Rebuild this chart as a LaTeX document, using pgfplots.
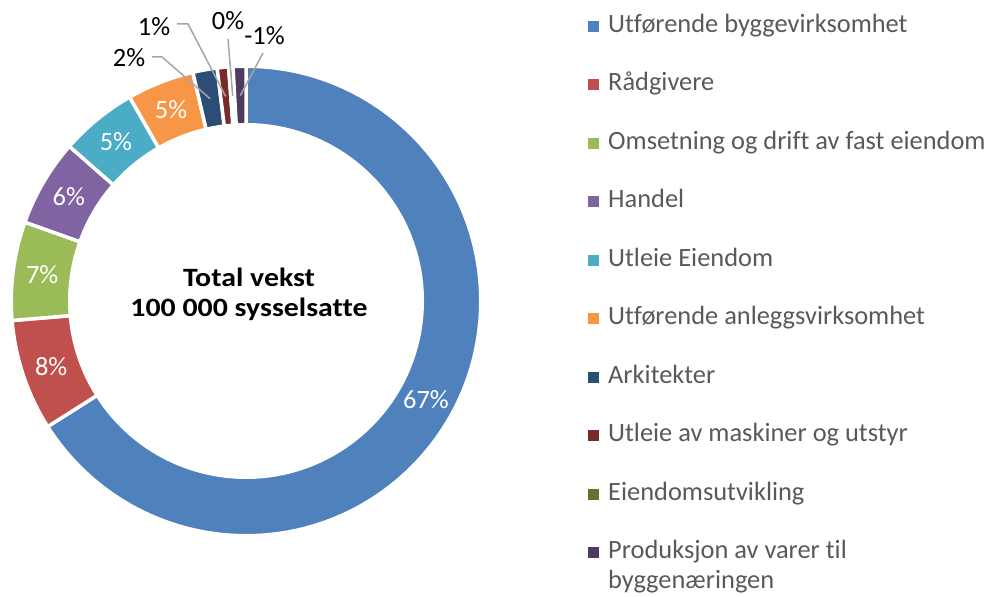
\documentclass[border=0pt]{standalone}
\usepackage{pgfplots}
\pgfplotsset{compat=1.18}
\usepackage{pgfplotstable}
\usepackage{fontspec}
\setmainfont{Carlito}[Ligatures=NoCommon]
\newfontfamily\titlefont{Carlito}[Ligatures=NoCommon, FakeStretch=1.13]
\definecolor{cUtf}{HTML}{4F81BD}
\definecolor{cRad}{HTML}{C0504D}
\definecolor{cOms}{HTML}{9BBB59}
\definecolor{cHan}{HTML}{8064A2}
\definecolor{cUtl}{HTML}{4BACC6}
\definecolor{cAnl}{HTML}{F79646}
\definecolor{cArk}{HTML}{2C4D75}
\definecolor{cMas}{HTML}{772C2A}
\definecolor{cEie}{HTML}{5F7530}
\definecolor{cPro}{HTML}{4D3B62}
\definecolor{cLeg}{HTML}{595959}
\definecolor{cLead}{HTML}{A6A6A6}

% share of total growth (%), drawn as |value|
\pgfplotstableread[col sep=comma]{
value,col
67.2,cUtf
7.8,cRad
6.9,cOms
6.1,cHan
5.4,cUtl
4.7,cAnl
1.7,cArk
0.8,cMas
0.3,cEie
-0.9,cPro
}\donut

\begin{document}
\fontsize{13.2}{15}\selectfont
\begin{tikzpicture}
\useasboundingbox (0,0) rectangle (496pt,298.5pt);
% angles, clockwise from 12 o'clock
\gdef\tot{0}
\foreach \i in {0,...,9}{%
  \pgfplotstablegetelem{\i}{value}\of\donut
  \pgfmathparse{\tot+abs(\pgfplotsretval)}\xdef\tot{\pgfmathresult}}
\gdef\cum{0}
\foreach \i in {0,...,9}{%
  \pgfplotstablegetelem{\i}{value}\of\donut \let\vv\pgfplotsretval
  \pgfmathsetmacro\aS{90-\cum/\tot*360}
  \pgfmathsetmacro\nc{\cum+abs(\vv)}
  \pgfmathsetmacro\aE{90-\nc/\tot*360}
  \pgfmathsetmacro\aM{(\aS+\aE)/2}
  \pgfmathtruncatemacro\lab{round(\vv)}
  \pgfplotstablegetelem{\i}{col}\of\donut
  \expandafter\xdef\csname col\i\endcsname{\pgfplotsretval}
  \expandafter\xdef\csname aS\i\endcsname{\aS}
  \expandafter\xdef\csname aE\i\endcsname{\aE}
  \expandafter\xdef\csname aM\i\endcsname{\aM}
  \expandafter\xdef\csname lab\i\endcsname{\lab}
  \xdef\cum{\nc}}
\begin{axis}[at={(0pt,0pt)}, anchor=south west, x=0.5pt, y=0.5pt,
  xmin=0, xmax=992, ymin=0, ymax=597, hide axis, clip=false,
  legend image code/.code={\fill[#1] (0pt,-2.5pt) rectangle (5pt,2.5pt);},
  legend style={at={(axis cs:588,583)}, anchor=north west, draw=none, fill=none,
    inner sep=0pt, row sep=17.25pt, column sep=4.5pt,
    nodes={inner sep=0pt, text height=9pt, text depth=3pt, text=cLeg}},
  legend cell align=left]
\addlegendimage{cUtf}\addlegendentry{Utførende byggevirksomhet}
\addlegendimage{cRad}\addlegendentry{Rådgivere}
\addlegendimage{cOms}\addlegendentry{Omsetning og drift av fast eiendom}
\addlegendimage{cHan}\addlegendentry{Handel}
\addlegendimage{cUtl}\addlegendentry{Utleie Eiendom}
\addlegendimage{cAnl}\addlegendentry{Utførende anleggsvirksomhet}
\addlegendimage{cArk}\addlegendentry{Arkitekter}
\addlegendimage{cMas}\addlegendentry{Utleie av maskiner og utstyr}
\addlegendimage{cEie}\addlegendentry{Eiendomsutvikling}
\addlegendimage{cPro}\addlegendentry{\begin{tabular}[t]{@{}l@{}}Produksjon av varer til\\byggenæringen\end{tabular}}

\pgfplotsforeachungrouped \i in {0,...,9}{%
  \edef\tmp{\noexpand\filldraw[fill=\csname col\i\endcsname, draw=white, line width=1.75pt, line join=round]
    ([shift={(\csname aS\i\endcsname:117.375pt)}]axis cs:246,296)
    arc[start angle=\csname aS\i\endcsname, end angle=\csname aE\i\endcsname, radius=117.375pt]
    -- ([shift={(\csname aE\i\endcsname:88.125pt)}]axis cs:246,296)
    arc[start angle=\csname aE\i\endcsname, end angle=\csname aS\i\endcsname, radius=88.125pt] -- cycle;}%
  \tmp}
\pgfplotsforeachungrouped \i in {0,...,5}{%
  \edef\tmp{\noexpand\node[text=white] at ([shift={(\csname aM\i\endcsname:102.75pt)}]axis cs:246,296)
    {\csname lab\i\endcsname\noexpand\%};}%
  \tmp}

\draw[cLead, line width=0.75pt] (axis cs:152,540) -- (axis cs:162,540) -- ([shift={(\csname aM6\endcsname:102.75pt)}]axis cs:246,296);
\draw[cLead, line width=0.75pt] (axis cs:177,573) -- (axis cs:188,573) -- ([shift={(\csname aM7\endcsname:102.75pt)}]axis cs:246,296);
\draw[cLead, line width=0.75pt] (axis cs:228,558) -- ([shift={(\csname aM8\endcsname:102.75pt)}]axis cs:246,296);
\draw[cLead, line width=0.75pt] (axis cs:263,544) -- ([shift={(\csname aM9\endcsname:102.75pt)}]axis cs:246,296);
\node at (axis cs:129,539.5) {\csname lab6\endcsname\%};
\node at (axis cs:154,570.5) {\csname lab7\endcsname\%};
\node at (axis cs:228,576.5) {\csname lab8\endcsname\%};
\node at (axis cs:264.5,561.5) {\csname lab9\endcsname\%};

\node[anchor=base, font=\titlefont\bfseries] at (axis cs:249,310) {Total vekst};
\node[anchor=base, font=\titlefont\bfseries] at (axis cs:249,280) {100 000 sysselsatte};
\end{axis}
\end{tikzpicture}
\end{document}
